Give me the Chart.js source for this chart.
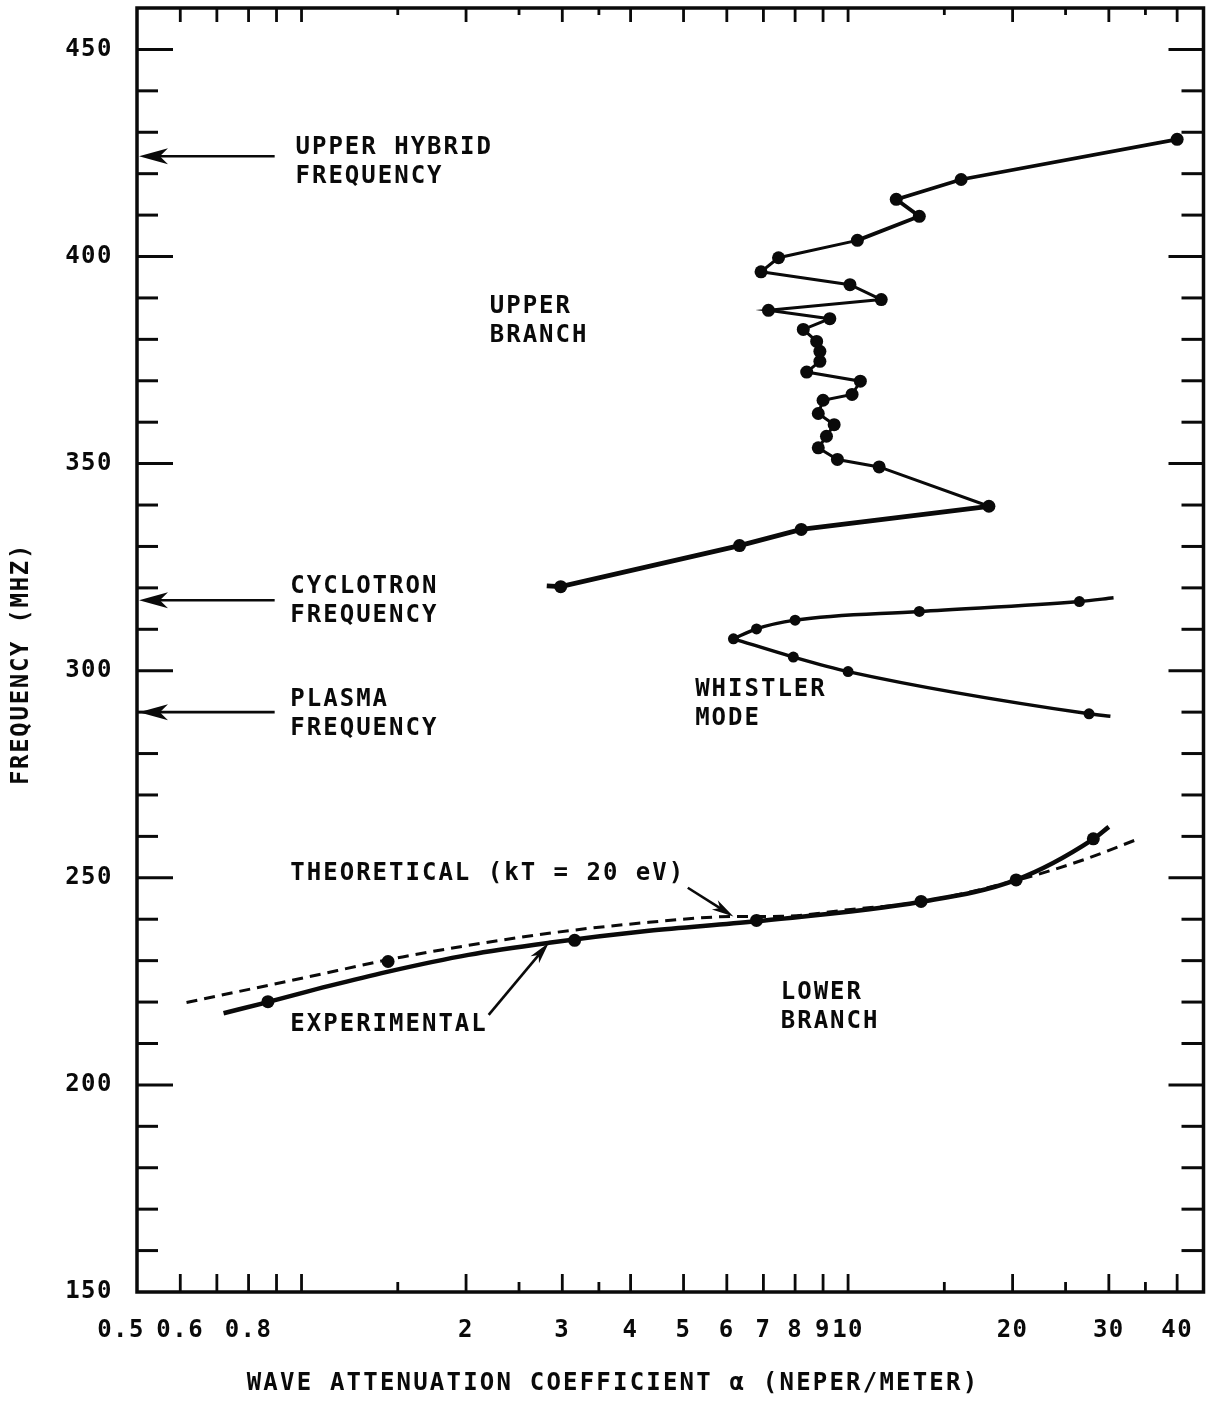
<!DOCTYPE html>
<html>
<head>
<meta charset="utf-8">
<script src="https://cdn.jsdelivr.net/npm/chart.js@4/dist/chart.umd.min.js"></script>
<style>
  html, body { margin: 0; padding: 0; background: #fff; }
  canvas { display: block; }
</style>
</head>
<body>
<canvas id="chart" width="1210" height="1402"></canvas>
<script>
// ---- Measured data: attenuation coefficient alpha (neper/m) vs frequency (MHz) ----

// Upper branch, measured points
const upperAlpha = [2.98, 6.33, 8.21, 18.1, 11.4, 9.56, 8.82, 9.13, 9.43, 8.82, 9.0, 10.17, 10.53, 8.4,
                    8.88, 8.88, 8.76, 8.28, 9.26, 7.15, 11.5, 10.08, 6.93, 7.46, 10.4, 13.5, 12.25, 16.1, 40.0];
const upperFreq  = [320.3, 330.2, 334.1, 339.7, 349.2, 351.0, 353.8, 356.6, 359.4, 362.1, 365.3, 366.7, 369.9, 372.1,
                    374.7, 377.1, 379.5, 382.4, 385.0, 387.0, 389.6, 393.2, 396.3, 399.7, 403.9, 409.7, 413.8, 418.6, 428.3];
// Upper branch connecting trace (begins slightly below the first point)
const upperTraceAlpha = [2.81, 2.98, 6.33, 8.21, 18.1, 11.4, 9.56, 8.82, 9.13, 9.43, 8.82, 9.0, 10.17, 10.53, 8.4,
                         8.88, 8.88, 8.76, 8.28, 9.26, 7.15, 11.5, 10.08, 6.93, 7.46, 10.4, 13.5, 12.25, 16.1, 40.0];
const upperTraceFreq  = [320.5, 320.3, 330.2, 334.1, 339.7, 349.2, 351.0, 353.8, 356.6, 359.4, 362.1, 365.3, 366.7, 369.9, 372.1,
                         374.7, 377.1, 379.5, 382.4, 385.0, 387.0, 389.6, 393.2, 396.3, 399.7, 403.9, 409.7, 413.8, 418.6, 428.3];

// Whistler mode, measured points
const whistlerAlpha = [26.5, 13.5, 8.0, 6.8, 6.17, 7.94, 10.0, 27.6];
const whistlerFreq  = [316.7, 314.3, 312.2, 310.1, 307.7, 303.3, 299.8, 289.6];
// Whistler mode curves (upper and lower arm, from the turning point outward)
const whistlerUpperArmAlpha = [6.17, 6.8, 8.0, 13.5, 26.5, 30.6];
const whistlerUpperArmFreq  = [307.7, 310.1, 312.2, 314.3, 316.7, 317.6];
const whistlerLowerArmAlpha = [6.17, 7.94, 10.0, 27.6, 30.2];
const whistlerLowerArmFreq  = [307.7, 303.3, 299.8, 289.6, 289.0];

// Lower branch, measured points
const lowerAlpha = [0.868, 1.44, 3.16, 6.8, 13.6, 20.3, 28.1];
const lowerFreq  = [220.1, 229.8, 234.9, 239.7, 244.3, 249.5, 259.4];
// Lower branch, experimental curve
const experimentalAlpha = [0.72, 0.868, 1.124, 1.434, 2.02, 2.835, 4.32, 6.77, 13.6, 20.3, 28.0, 30.0];
const experimentalFreq  = [217.3, 220.0, 223.9, 227.3, 231.4, 234.3, 237.2, 239.5, 244.2, 249.5, 259.2, 262.3];
// Lower branch, theoretical curve (kT = 20 eV)
const theoreticalAlpha = [0.616, 1.006, 1.53, 2.835, 4.32, 6.17, 7.55, 10.0, 13.6, 21.0, 26.9, 34.3];
const theoreticalFreq  = [219.9, 225.8, 230.9, 236.6, 239.25, 240.65, 240.7, 242.3, 244.2, 249.9, 254.3, 259.6];

// Characteristic frequencies (MHz)
const upperHybridFreq = 424.2;
const cyclotronFreq = 317.0;
const plasmaFreq = 290.0;

// Axis ticks
const xLabelTicks = [0.5, 0.6, 0.8, 2, 3, 4, 5, 6, 7, 8, 9, 10, 20, 30, 40];
const xLongTicks  = [0.6, 0.7, 0.8, 0.9, 1, 2, 3, 4, 5, 6, 7, 8, 9, 10, 20, 30, 40];
const xShortTicks = [1.5, 2.5, 3.5, 15, 25, 35];
const yLabelTicks = [150, 200, 250, 300, 350, 400, 450];
const yMarkTicks  = [160, 170, 180, 190, 200, 210, 220, 230, 240, 250, 260, 270, 280, 290,
                     300, 310, 320, 330, 340, 350, 360, 370, 380, 390, 400, 410, 420, 430, 440, 450];

// ---- Drawing ----
const FONT = "'DejaVu Sans Mono', 'Liberation Mono', monospace";
const TEXT_FONT = 'bold 24px ' + FONT;
const INK = '#0a0a0a';

const zip = (xs, ys) => xs.map((v, i) => ({ x: v, y: ys[i] }));

const notes = [
  { lines: ['UPPER HYBRID', 'FREQUENCY'], alpha: 0.975, freq: 426.3 },
  { lines: ['CYCLOTRON', 'FREQUENCY'], alpha: 0.954, freq: 320.3 },
  { lines: ['PLASMA', 'FREQUENCY'], alpha: 0.954, freq: 293.0 },
  { lines: ['UPPER', 'BRANCH'], alpha: 2.21, freq: 387.9 },
  { lines: ['WHISTLER', 'MODE'], alpha: 5.25, freq: 295.4 },
  { lines: ['THEORETICAL (kT = 20 eV)'], alpha: 0.954, freq: 251.0 },
  { lines: ['EXPERIMENTAL'], alpha: 0.954, freq: 214.5 },
  { lines: ['LOWER', 'BRANCH'], alpha: 7.53, freq: 222.2 }
];

// pointer arrows: from (alpha, freq) to (alpha, freq)
const pointers = [
  { from: [5.09, 247.6], to: [6.17, 240.65] },
  { from: [2.2, 216.9], to: [2.835, 234.3] }
];

function arrow(ctx, x1, y1, x2, y2, len, half, width) {
  const ang = Math.atan2(y2 - y1, x2 - x1);
  const c = Math.cos(ang), s = Math.sin(ang);
  ctx.lineWidth = width;
  ctx.beginPath();
  ctx.moveTo(x1, y1);
  ctx.lineTo(x2 - c * len * 0.7, y2 - s * len * 0.7);
  ctx.stroke();
  ctx.beginPath();
  ctx.moveTo(x2, y2);
  ctx.lineTo(x2 - c * len - s * half, y2 - s * len + c * half);
  ctx.lineTo(x2 - c * len * 0.72, y2 - s * len * 0.72);
  ctx.lineTo(x2 - c * len + s * half, y2 - s * len - c * half);
  ctx.closePath();
  ctx.fill();
}

const decor = {
  id: 'decor',
  beforeDraw(chart) {
    const ctx = chart.ctx;
    ctx.save();
    ctx.fillStyle = '#fff';
    ctx.fillRect(0, 0, chart.width, chart.height);
    ctx.restore();
    ctx.letterSpacing = '1.5px';
  },
  afterDraw(chart) {
    const { ctx, chartArea: a, scales: { x, y } } = chart;
    ctx.save();
    ctx.strokeStyle = INK;
    ctx.fillStyle = INK;
    ctx.lineCap = 'butt';
    const seg = (x1, y1, x2, y2) => { ctx.beginPath(); ctx.moveTo(x1, y1); ctx.lineTo(x2, y2); ctx.stroke(); };

    // inward tick marks on all four sides
    ctx.lineWidth = 3;
    for (const v of yMarkTicks) {
      const py = y.getPixelForValue(v);
      const major = v % 50 === 0;
      seg(a.left, py, a.left + (major ? 36 : 21), py);
      seg(a.right, py, a.right - (major ? 35 : 22), py);
    }
    ctx.lineWidth = 2.8;
    for (const v of xLongTicks) {
      const px = x.getPixelForValue(v);
      seg(px, a.bottom, px, a.bottom - 18);
      seg(px, a.top, px, a.top + 14);
    }
    for (const v of xShortTicks) {
      const px = x.getPixelForValue(v);
      seg(px, a.bottom, px, a.bottom - 10);
      seg(px, a.top, px, a.top + 7);
    }

    // frame
    ctx.lineWidth = 3.5;
    ctx.strokeRect(a.left, a.top, a.right - a.left, a.bottom - a.top);

    // text notes
    ctx.letterSpacing = '2px';
    ctx.font = TEXT_FONT;
    ctx.textAlign = 'left';
    ctx.textBaseline = 'middle';
    for (const n of notes) {
      const px = x.getPixelForValue(n.alpha);
      const py = y.getPixelForValue(n.freq);
      n.lines.forEach((t, i) => ctx.fillText(t, px, py + i * 29));
    }

    // arrows to the characteristic frequencies on the frequency axis
    const tail = x.getPixelForValue(0.893);
    for (const f of [upperHybridFreq, cyclotronFreq, plasmaFreq]) {
      const py = y.getPixelForValue(f);
      arrow(ctx, tail, py, a.left + 2, py, 29, 8, 2.6);
    }
    for (const p of pointers) {
      arrow(ctx, x.getPixelForValue(p.from[0]), y.getPixelForValue(p.from[1]),
                 x.getPixelForValue(p.to[0]), y.getPixelForValue(p.to[1]), 22, 5.5, 2.6);
    }

    // axis titles
    ctx.font = TEXT_FONT;
    ctx.textAlign = 'center';
    ctx.letterSpacing = '2.2px';
    ctx.fillText('WAVE ATTENUATION COEFFICIENT \u03B1 (NEPER/METER)', 613, 1384);
    ctx.letterSpacing = '1.7px';
    ctx.translate(22, 664);
    ctx.rotate(-Math.PI / 2);
    ctx.fillText('FREQUENCY (MHZ)', 0, 0);
    ctx.restore();
  }
};

const markerStyle = {
  showLine: false,
  order: -1,
  pointRadius: 6,
  pointBackgroundColor: INK,
  pointBorderWidth: 0,
  pointHoverRadius: 6
};
const traceStyle = {
  showLine: true,
  pointRadius: 0,
  pointHoverRadius: 0,
  borderColor: INK,
  fill: false
};

new Chart(document.getElementById('chart'), {
  type: 'scatter',
  data: {
    datasets: [
      { ...traceStyle, label: 'Upper branch', data: zip(upperTraceAlpha, upperTraceFreq), tension: 0,
        borderWidth: 3,
        segment: { borderWidth: c => c.p0DataIndex < 4 ? 4.8 : (c.p0DataIndex >= 25 ? 3.8 : 3) } },
      { ...markerStyle, label: 'Upper branch points', data: zip(upperAlpha, upperFreq), pointRadius: 6.5 },
      { ...traceStyle, label: 'Whistler upper arm', data: zip(whistlerUpperArmAlpha, whistlerUpperArmFreq),
        borderWidth: 3.4, cubicInterpolationMode: 'monotone' },
      { ...traceStyle, label: 'Whistler lower arm', data: zip(whistlerLowerArmAlpha, whistlerLowerArmFreq),
        borderWidth: 3.4, cubicInterpolationMode: 'monotone' },
      { ...markerStyle, label: 'Whistler points', data: zip(whistlerAlpha, whistlerFreq), pointRadius: 5.5 },
      { ...traceStyle, label: 'Experimental', data: zip(experimentalAlpha, experimentalFreq),
        borderWidth: 4.5, cubicInterpolationMode: 'monotone' },
      { ...traceStyle, label: 'Theoretical (kT = 20 eV)', data: zip(theoreticalAlpha, theoreticalFreq),
        borderWidth: 3, borderDash: [11, 7], cubicInterpolationMode: 'monotone' },
      { ...markerStyle, label: 'Lower branch points', data: zip(lowerAlpha, lowerFreq), pointRadius: 6.5 }
    ]
  },
  options: {
    responsive: false,
    devicePixelRatio: 1,
    animation: false,
    layout: { padding: { left: 0, top: 8, right: 3, bottom: 0 } },
    plugins: { legend: { display: false }, tooltip: { enabled: false } },
    scales: {
      x: {
        type: 'logarithmic',
        min: 0.5,
        max: 44.7,
        grid: { display: false },
        border: { display: false },
        afterBuildTicks: s => { s.ticks = xLabelTicks.map(v => ({ value: v })); },
        afterFit: s => { s.height = 110; s.paddingLeft = 0; s.paddingRight = 0; },
        ticks: {
          autoSkip: false, maxRotation: 0, minRotation: 0, padding: 16,
          color: INK, font: { family: FONT, size: 24, weight: 'bold' },
          callback: v => (v === 0.5 ? '0.5  ' : String(v))
        }
      },
      y: {
        type: 'linear',
        min: 150,
        max: 460,
        grid: { display: false },
        border: { display: false },
        afterBuildTicks: s => { s.ticks = yLabelTicks.map(v => ({ value: v })); },
        afterFit: s => { s.width = 137; s.paddingTop = 0; s.paddingBottom = 0; },
        ticks: { padding: 16, color: INK, font: { family: FONT, size: 24, weight: 'bold' } }
      }
    }
  },
  plugins: [decor]
});
</script>
</body>
</html>
